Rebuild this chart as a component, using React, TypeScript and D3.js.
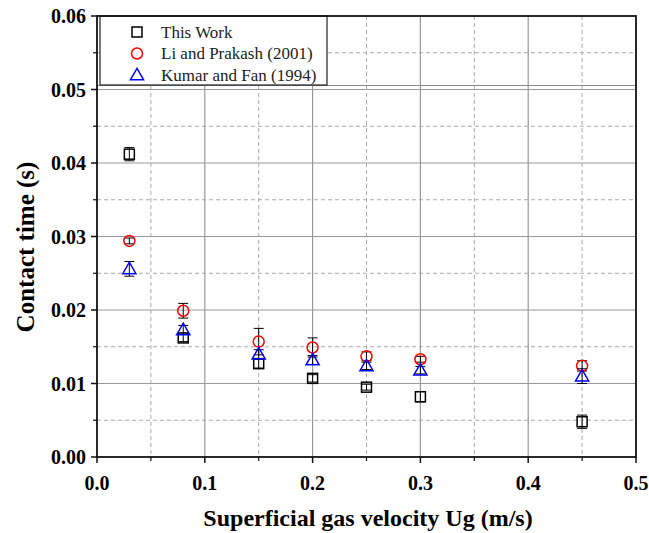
import React from 'react';
import * as d3 from 'd3';

// data
const velocities = [0.03, 0.08, 0.15, 0.2, 0.25, 0.3, 0.45];
const thisWork = [0.0412, 0.0162, 0.0127, 0.0107, 0.0095, 0.0082, 0.0048];
const thisWorkErr = [0.0009, 0.0005, 0.0006, 0.0005, 0.0004, 0.0007, 0.0009];
const liPrakash = [0.0294, 0.0199, 0.0157, 0.0149, 0.0137, 0.0133, 0.0124];
const liPrakashErr = [0.0004, 0.001, 0.0018, 0.0013, 0.0006, 0.0004, 0.0007];
const kumarFan = [0.0256, 0.0173, 0.014, 0.0132, 0.0124, 0.0118, 0.011];
const kumarFanErr = [0.001, 0.0006, 0.0006, 0.0006, 0.0005, 0.0005, 0.001];

const xTicks = [0, 0.1, 0.2, 0.3, 0.4, 0.5];
const yTicks = [0, 0.01, 0.02, 0.03, 0.04, 0.05, 0.06];

const seriesNames = ['This Work', 'Li and Prakash (2001)', 'Kumar and Fan (1994)'];

const App = () => {
  const Width = 649;
  const Height = 533;
  const margin = { top: 16, right: 13, bottom: 76, left: 97 };
  const chartWidth = Width - margin.left - margin.right;
  const chartHeight = Height - margin.top - margin.bottom;

  const xScale = d3.scaleLinear().domain([0, 0.5]).range([0, chartWidth]);
  const yScale = d3.scaleLinear().domain([0, 0.06]).range([chartHeight, 0]);

  const xMinor = d3.range(0.05, 0.5, 0.1);
  const yMinor = d3.range(0.005, 0.06, 0.01);

  const font = '"Liberation Serif", "Times New Roman", serif';

  const series = [
    { name: seriesNames[0], values: thisWork, err: thisWorkErr, color: '#000', shape: 'square' },
    { name: seriesNames[1], values: liPrakash, err: liPrakashErr, color: '#ff0000', shape: 'circle' },
    { name: seriesNames[2], values: kumarFan, err: kumarFanErr, color: '#0000ff', shape: 'triangle' },
  ];

  const marker = (shape, color, x, y) => {
    if (shape === 'square') {
      return <rect x={x - 5} y={y - 5} width={10} height={10} fill="none" stroke={color} strokeWidth={1.5} />;
    }
    if (shape === 'circle') {
      return <circle cx={x} cy={y} r={5.5} fill="none" stroke={color} strokeWidth={1.5} />;
    }
    const tri = d3.symbol().type(d3.symbolTriangle).size(75)();
    return <path d={tri} transform={`translate(${x},${y + 1})`} fill="none" stroke={color} strokeWidth={1.5} />;
  };

  const points = series.map((s, si) => (
    <g key={si}>
      {velocities.map((v, i) => {
        const x = xScale(v);
        const y = yScale(s.values[i]);
        const y1 = yScale(s.values[i] + s.err[i]);
        const y2 = yScale(s.values[i] - s.err[i]);
        return (
          <g key={i}>
            <line x1={x} x2={x} y1={y1} y2={y2} stroke="#000" strokeWidth={1} />
            <line x1={x - 5} x2={x + 5} y1={y1} y2={y1} stroke="#000" strokeWidth={1} />
            <line x1={x - 5} x2={x + 5} y1={y2} y2={y2} stroke="#000" strokeWidth={1} />
            {marker(s.shape, s.color, x, y)}
          </g>
        );
      })}
    </g>
  ));

  const legend = series.map((s, i) => (
    <g key={i} transform={`translate(40, ${16 + i * 21.5})`}>
      {marker(s.shape, s.color, 0, 0)}
      <text x={24} y={0} dominantBaseline="central" style={{ fontSize: '17px', fontFamily: font }} fill="#222">
        {s.name}
      </text>
    </g>
  ));

  return (
    <svg width={Width} height={Height} style={{ position: 'absolute', left: 0, top: 0, background: '#fff' }}>
      <g transform={`translate(${margin.left}, ${margin.top})`}>
        {/* minor grid */}
        {xMinor.map((v, i) => (
          <line key={'xm' + i} x1={xScale(v)} x2={xScale(v)} y1={0} y2={chartHeight} stroke="#aaa" strokeDasharray="4,3" />
        ))}
        {yMinor.map((v, i) => (
          <line key={'ym' + i} x1={0} x2={chartWidth} y1={yScale(v)} y2={yScale(v)} stroke="#aaa" strokeDasharray="4,3" />
        ))}
        {/* major grid */}
        {xTicks.slice(1, -1).map((v, i) => (
          <line key={'xg' + i} x1={xScale(v)} x2={xScale(v)} y1={0} y2={chartHeight} stroke="#999" strokeWidth={1.2} />
        ))}
        {yTicks.slice(1, -1).map((v, i) => (
          <line key={'yg' + i} x1={0} x2={chartWidth} y1={yScale(v)} y2={yScale(v)} stroke="#999" strokeWidth={1.2} />
        ))}
        <line x1={0} x2={chartWidth} y1={yScale(0.05) - 4} y2={yScale(0.05) - 4} stroke="#888" strokeWidth={1.2} />

        {/* legend box */}
        <rect x={3} y={0} width={227} height={69} fill="#fff" stroke="#222" strokeWidth={1.2} />
        {legend}

        {points}

        {/* frame */}
        <rect x={0} y={0} width={chartWidth} height={chartHeight} fill="none" stroke="#111" strokeWidth={1.8} />

        {/* x axis */}
        {xTicks.map((v, i) => (
          <g key={'xt' + i}>
            <line x1={xScale(v)} x2={xScale(v)} y1={chartHeight} y2={chartHeight + 6} stroke="#111" strokeWidth={1.5} />
            <text x={xScale(v)} y={chartHeight + 26} textAnchor="middle" dominantBaseline="central" style={{ fontSize: '20px', fontWeight: 'bold', fontFamily: font }}>
              {d3.format('.1f')(v)}
            </text>
          </g>
        ))}
        {xMinor.map((v, i) => (
          <line key={'xmt' + i} x1={xScale(v)} x2={xScale(v)} y1={chartHeight} y2={chartHeight + 4} stroke="#111" strokeWidth={1.2} />
        ))}
        <text x={271} y={chartHeight + 69} textAnchor="middle" style={{ fontSize: '24px', fontWeight: 'bold', fontFamily: font }}>
          Superficial gas velocity Ug (m/s)
        </text>

        {/* y axis */}
        {yTicks.map((v, i) => (
          <g key={'yt' + i}>
            <line x1={-6} x2={0} y1={yScale(v)} y2={yScale(v)} stroke="#111" strokeWidth={1.5} />
            <text x={-11} y={yScale(v)} textAnchor="end" dominantBaseline="central" style={{ fontSize: '20px', fontWeight: 'bold', fontFamily: font }}>
              {d3.format('.2f')(v)}
            </text>
          </g>
        ))}
        {yMinor.map((v, i) => (
          <line key={'ymt' + i} x1={-4} x2={0} y1={yScale(v)} y2={yScale(v)} stroke="#111" strokeWidth={1.2} />
        ))}
        <text
          transform={`translate(${-72}, ${231}) rotate(-90)`}
          textAnchor="middle"
          dominantBaseline="central"
          style={{ fontSize: '25px', fontWeight: 'bold', fontFamily: font }}
        >
          Contact time (s)
        </text>
      </g>
    </svg>
  );
};

export default App;
